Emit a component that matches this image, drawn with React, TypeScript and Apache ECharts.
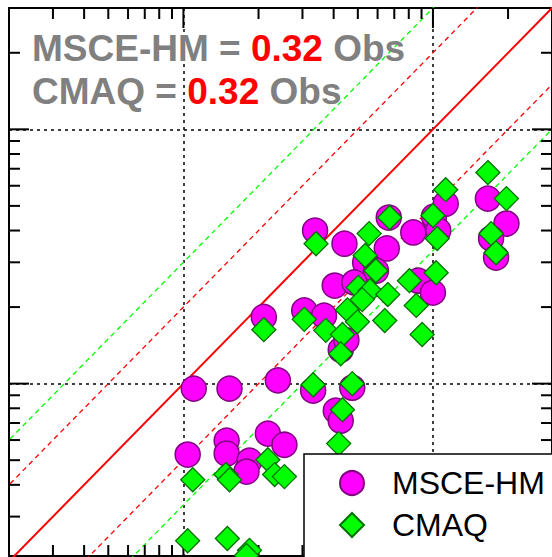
import React, { useEffect, useRef } from "react";
import * as echarts from "echarts";

// ---- data (log-log scatter) ----
const MSCE_X = [3.37, 6.65, 8.34, 10.1, 11.25, 10.5, 16.6, 19.7, 17.1, 17.9, 4.42, 6.53, 5.35, 5.91, 4.04, 4.84, 8.73, 10.0, 3.05, 3.66, 2.1, 4.27, 4.5, 2.39, 1.1, 1.53, 3.31, 4.75, 4.08, 4.27, 1.04, 1.49, 1.49, 1.84, 1.79, 2.18, 2.54];
const MSCE_Y = [4.0, 4.5, 3.93, 4.54, 5.1, 4.0, 5.34, 4.26, 3.72, 3.13, 3.55, 3.4, 2.99, 2.78, 2.43, 2.5, 2.54, 2.28, 1.94, 1.85, 1.83, 1.36, 1.48, 1.03, 0.956, 0.956, 0.939, 0.964, 0.783, 0.715, 0.526, 0.597, 0.531, 0.498, 0.451, 0.636, 0.575];

const CMAQ_X = [3.4, 16.6, 19.7, 17.1, 17.9, 11.25, 10.0, 10.4, 6.71, 5.55, 5.35, 5.91, 10.3, 5.02, 5.6, 6.59, 8.05, 8.57, 9.05, 3.05, 3.72, 4.34, 4.54, 4.98, 5.21, 4.27, 6.41, 2.1, 3.31, 4.75, 4.34, 4.19, 1.09, 1.48, 1.53, 2.18, 2.32, 2.54, 1.04, 1.5, 1.84, 1.79];
const CMAQ_Y = [3.55, 6.76, 5.34, 3.89, 3.27, 5.79, 4.58, 3.72, 4.5, 3.89, 3.19, 2.78, 2.73, 2.39, 2.32, 2.24, 2.54, 2.03, 1.56, 1.79, 1.62, 1.56, 1.95, 1.75, 2.14, 1.31, 1.77, 1.63, 0.99, 1.0, 0.79, 0.581, 0.419, 0.439, 0.419, 0.502, 0.439, 0.431, 0.241, 0.246, 0.221, 0.211];

// reference lines (end points)
const LINE_1_1 = [[0.05, 0.05], [300, 300]];
const LINE_X2 = [[0.05, 0.1], [300, 600]];
const LINE_HALF = [[0.05, 0.025], [300, 150]];
const LINE_X3 = [[0.05, 0.15], [300, 900]];
const LINE_THIRD = [[0.05, 0.05 / 3], [300, 100]];

// axis extents and tick values
const X_MIN = 0.2;
const X_MAX = 30;
const Y_MIN = 0.21;
const Y_MAX = 30;
const MINOR_TICKS = [0.3, 0.4, 0.5, 0.6, 0.7, 0.8, 0.9, 2, 3, 4, 5, 6, 7, 8, 9, 20];
const MAJOR_TICKS = [1, 10];

const SERIES_NAMES = ["MSCE-HM", "CMAQ"];
const TITLE_LINES = [
  { model: "MSCE-HM", factor: "0.32" },
  { model: "CMAQ", factor: "0.32" },
];

const FONT = "'Liberation Sans', Arial, Helvetica, sans-serif";

export default function App() {
  const ref = useRef<HTMLDivElement>(null);

  useEffect(() => {
    if (!ref.current) return;
    const chart = echarts.init(ref.current, null, { renderer: "svg" });

    const msceData = MSCE_X.map((x, i) => [x, MSCE_Y[i]]);
    const cmaqData = CMAQ_X.map((x, i) => [x, CMAQ_Y[i]]);

    const tickData: number[][] = [];
    MINOR_TICKS.forEach((v) => {
      tickData.push([v, v, 0, 0]);
      tickData.push([v, v, 1, 0]);
    });
    MAJOR_TICKS.forEach((v) => {
      tickData.push([v, v, 0, 1]);
      tickData.push([v, v, 1, 1]);
    });

    const axisCommon = {
      type: "log" as const,
      logBase: 10,
      axisTick: { show: false },
      minorTick: { show: false },
      axisLabel: { show: false },
      axisLine: { show: true, onZero: false, lineStyle: { color: "#000", width: 2 } },
    };
    const split = {
      show: true,
      showMinLine: false,
      showMaxLine: false,
      lineStyle: { color: "#000", width: 1.5, type: [3, 4] },
    };

    const refLine = (data: number[][], color: string, type: any, width: number) => ({
      type: "line",
      data,
      showSymbol: false,
      symbol: "none",
      clip: true,
      silent: true,
      z: 1,
      lineStyle: { color, type, width },
    });

    chart.setOption({
      animation: false,
      grid: { left: 9, top: 8, width: 552.7, height: 548, containLabel: false },
      xAxis: [
        { ...axisCommon, min: X_MIN, max: X_MAX, position: "bottom", splitLine: split },
        { ...axisCommon, min: X_MIN, max: X_MAX, position: "top", splitLine: { show: false } },
      ],
      yAxis: [
        { ...axisCommon, min: Y_MIN, max: Y_MAX, position: "left", splitLine: split },
        { ...axisCommon, min: Y_MIN, max: Y_MAX, position: "right", splitLine: { show: false } },
      ],
      legend: {
        show: true,
        orient: "vertical",
        left: 304,
        top: 454,
        width: 320,
        height: 160,
        data: [
          { name: SERIES_NAMES[0], icon: "circle" },
          { name: SERIES_NAMES[1], icon: "diamond" },
        ],
        itemWidth: 24,
        itemHeight: 24,
        itemGap: 10,
        padding: [13, 80, 40, 35],
        backgroundColor: "#fff",
        borderColor: "#000",
        borderWidth: 1.5,
        borderRadius: 0,
        textStyle: {
          fontSize: 32,
          fontFamily: FONT,
          color: "#000",
          lineHeight: 30,
          padding: [0, 0, 0, 23],
        },
        z: 10,
      },
      graphic: TITLE_LINES.map((t, i) => ({
        type: "text",
        x: 32,
        y: 48 + i * 43,
        z: 100,
        style: {
          text: `{g|${t.model} = }{r|${t.factor}}{g| Obs}`,
          verticalAlign: "middle",
          rich: {
            g: { fill: "#808080", fontSize: 37, fontWeight: "bold", fontFamily: FONT },
            r: { fill: "#ff0000", fontSize: 37, fontWeight: "bold", fontFamily: FONT },
          },
        },
      })),
      series: [
        refLine(LINE_X3, "#00ff00", [5, 4], 1.3),
        refLine(LINE_THIRD, "#00ff00", [5, 4], 1.3),
        refLine(LINE_X2, "#ff0000", [5, 4], 1.3),
        refLine(LINE_HALF, "#ff0000", [5, 4], 1.3),
        refLine(LINE_1_1, "#ff0000", "solid", 2),
        {
          type: "custom",
          silent: true,
          z: 2,
          data: tickData,
          encode: { x: 0, y: 1 },
          renderItem: (_params: any, api: any) => {
            const v = api.value(0);
            const kind = api.value(2);
            const major = api.value(3);
            const len = major ? 20 : 11;
            const style = { stroke: "#000", lineWidth: 2 };
            if (kind === 0) {
              const b = api.coord([v, Y_MIN]);
              const t = api.coord([v, Y_MAX]);
              return {
                type: "group",
                children: [
                  { type: "line", shape: { x1: b[0], y1: b[1], x2: b[0], y2: b[1] - len }, style },
                  { type: "line", shape: { x1: t[0], y1: t[1], x2: t[0], y2: t[1] + len }, style },
                ],
              };
            }
            const l = api.coord([X_MIN, v]);
            const r = api.coord([X_MAX, v]);
            return {
              type: "group",
              children: [
                { type: "line", shape: { x1: l[0], y1: l[1], x2: l[0] + len, y2: l[1] }, style },
                { type: "line", shape: { x1: r[0], y1: r[1], x2: r[0] - len, y2: r[1] }, style },
              ],
            };
          },
        },
        {
          type: "scatter",
          name: SERIES_NAMES[0],
          data: msceData,
          symbol: "circle",
          symbolSize: 25,
          z: 3,
          itemStyle: { color: "#ff00ff", borderColor: "#800080", borderWidth: 1.5, opacity: 1 },
        },
        {
          type: "scatter",
          name: SERIES_NAMES[1],
          data: cmaqData,
          symbol: "diamond",
          symbolSize: 24,
          z: 4,
          itemStyle: { color: "#00ff00", borderColor: "#007000", borderWidth: 1.3, opacity: 1 },
        },
      ],
    });

    return () => chart.dispose();
  }, []);

  return (
    <div
      ref={ref}
      style={{ position: "fixed", left: 0, top: 0, width: 552, height: 557, background: "#fff" }}
    />
  );
}
